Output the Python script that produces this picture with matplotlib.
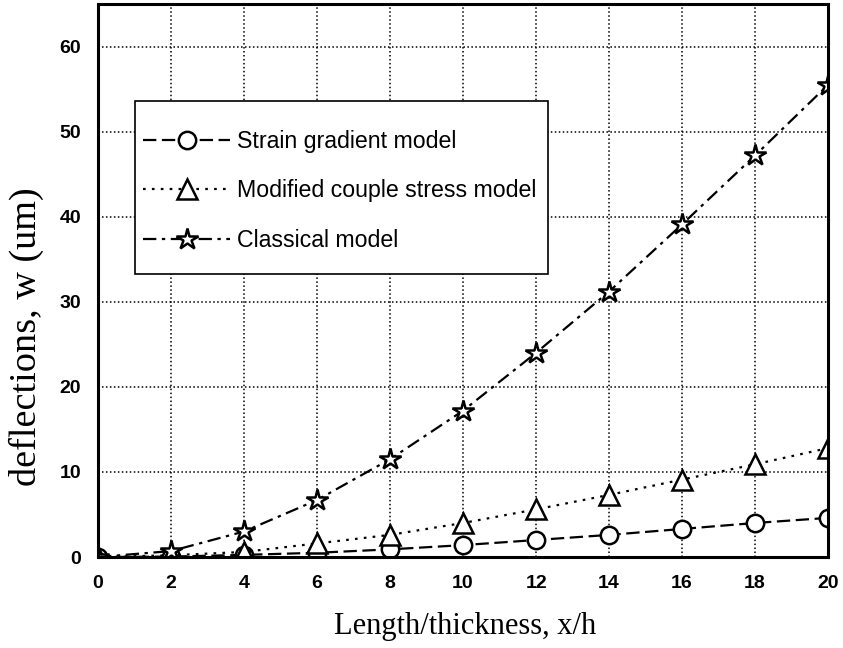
import matplotlib
matplotlib.use("Agg")
import matplotlib.pyplot as plt
from matplotlib.patches import Rectangle

x = [0, 2, 4, 6, 8, 10, 12, 14, 16, 18, 20]
strain_gradient = [0.0, 0.05, 0.25, 0.5, 0.9, 1.4, 2.0, 2.6, 3.3, 4.0, 4.6]
couple_stress = [0.0, 0.2, 0.6, 1.6, 2.6, 4.0, 5.6, 7.3, 9.1, 10.9, 12.8]
classical = [0.0, 0.7, 3.0, 6.7, 11.5, 17.2, 24.0, 31.2, 39.1, 47.2, 55.5]

xticks = [0, 2, 4, 6, 8, 10, 12, 14, 16, 18, 20]
yticks = [0, 10, 20, 30, 40, 50, 60]

fig = plt.figure(figsize=(8.43, 6.48), dpi=100)
ax = fig.add_axes([0.1163, 0.1404, 0.8660, 0.8534])

mk = dict(markerfacecolor="white", markeredgecolor="black", markeredgewidth=1.8, color="black", linewidth=1.6)
ax.plot(x, strain_gradient, linestyle=(0, (6, 2.5)), marker="o", markersize=12.5, label="Strain gradient model", **mk)
ax.plot(x, couple_stress, linestyle=(0, (1.2, 2.8)), marker="^", markersize=14, label="Modified couple stress model", **mk)
ax.plot(x, classical, linestyle=(0, (6, 2.5, 1.5, 2.5)), marker="*", markersize=16, label="Classical model", **mk)

ax.set_xlim(0, 20)
ax.set_ylim(0, 65)
ax.set_xticks(xticks)
ax.set_yticks(yticks)
ax.grid(True, color="black", linestyle=(0, (1, 1.6)), linewidth=1.1)
ax.tick_params(axis="x", length=0, pad=13)
ax.tick_params(axis="y", length=0, pad=12)
for lbl in ax.get_xticklabels() + ax.get_yticklabels():
    lbl.set_fontfamily("Liberation Sans")
    lbl.set_fontweight("bold")
    lbl.set_fontsize(14)
for s in ax.spines.values():
    s.set_linewidth(2.2)

ax.set_xlabel("Length/thickness, x/h", fontfamily="Liberation Serif", fontsize=22)
ax.xaxis.set_label_coords(0.503, -0.1)
ax.xaxis.label.set_verticalalignment("top")
ax.set_ylabel("deflections, w (um)", fontfamily="Liberation Serif", fontsize=27.5)
ax.yaxis.set_label_coords(-0.074, 0.399)

# legend frame box
frame = Rectangle((0.0507, 0.512), 0.5657, 0.312, transform=ax.transAxes,
                  facecolor="white", edgecolor="black", linewidth=1.2, zorder=4.5)
ax.add_patch(frame)

leg = ax.legend(loc="center left", bbox_to_anchor=(0.0616, 0.662), prop={"family": "Liberation Sans", "size": 16.7},
                handlelength=3.75, handletextpad=0.3, labelspacing=1.15, borderpad=0,
                frameon=False, borderaxespad=0)
leg.set_zorder(5)

fig.savefig("out.png", dpi=100)
